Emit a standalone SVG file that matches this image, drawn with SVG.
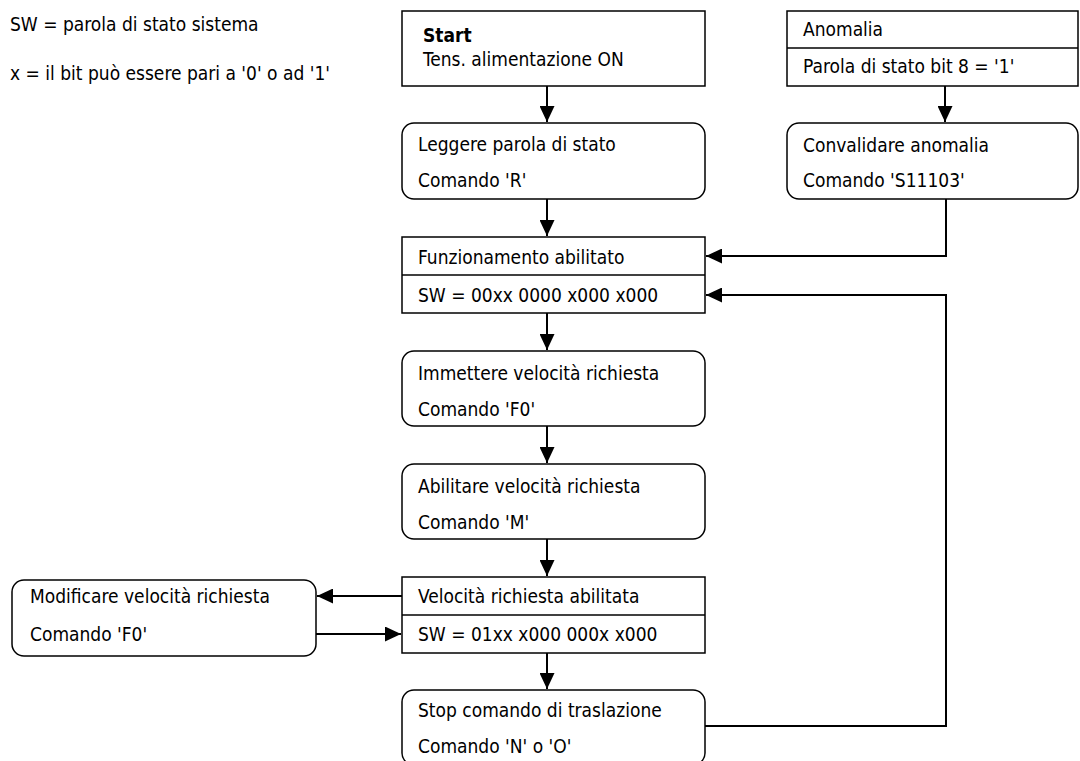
<svg xmlns="http://www.w3.org/2000/svg" width="1080" height="761" viewBox="0 0 1080 761">
  <style>
    text { font-family: "Liberation Sans Narrow", "DejaVu Sans Condensed", "Liberation Sans", sans-serif; font-size: 19px; fill: #000; }
    .box { fill: #fff; stroke: #000; stroke-width: 1.5; }
    .sep { stroke: #000; stroke-width: 1.5; }
    .conn { fill: none; stroke: #000; stroke-width: 2; marker-end: url(#arrow); }
    .bold { font-weight: bold; }
  </style>
  <defs>
    <marker id="arrow" viewBox="0 0 16 15" refX="16" refY="7.5" markerWidth="16" markerHeight="15" markerUnits="userSpaceOnUse" orient="auto">
      <path d="M0,0 L16,7.5 L0,15 Z" fill="#000"/>
    </marker>
  </defs>
  <rect width="1080" height="761" fill="#fff"/>

  <!-- legend -->
  <g id="legend">
    <text x="10" y="31">SW = parola di stato sistema</text>
    <text x="10" y="80">x = il bit può essere pari a '0' o ad '1'</text>
  </g>

  <!-- connectors -->
  <g id="connectors">
    <path class="conn" d="M547,86 V122"/>
    <path class="conn" d="M547,199 V236"/>
    <path class="conn" d="M547,313 V350"/>
    <path class="conn" d="M547,426 V463"/>
    <path class="conn" d="M547,539 V576"/>
    <path class="conn" d="M547,653 V689"/>
    <path class="conn" d="M945,86 V122"/>
    <path class="conn" d="M946,199 V256 H706"/>
    <path class="conn" d="M705,726 H946 V295 H706"/>
    <path class="conn" d="M402,596 H317"/>
    <path class="conn" d="M316,634 H401"/>
  </g>

  <g id="start">
    <rect class="box" x="402" y="11" width="303" height="75"/>
    <text class="bold" x="423" y="42">Start</text>
    <text x="423" y="66">Tens. alimentazione ON</text>
  </g>

  <g id="anomalia">
    <rect class="box" x="787" y="11" width="291" height="75"/>
    <line class="sep" x1="787" y1="48" x2="1078" y2="48"/>
    <text x="803" y="36">Anomalia</text>
    <text x="803" y="73">Parola di stato bit 8 = '1'</text>
  </g>

  <g id="leggere">
    <rect class="box" x="402" y="123" width="303" height="76" rx="12"/>
    <text x="418" y="151">Leggere parola di stato</text>
    <text x="418" y="187">Comando 'R'</text>
  </g>

  <g id="convalidare">
    <rect class="box" x="787" y="123" width="291" height="76" rx="12"/>
    <text x="803" y="152">Convalidare anomalia</text>
    <text x="803" y="187">Comando 'S11103'</text>
  </g>

  <g id="funzionamento">
    <rect class="box" x="402" y="237" width="303" height="76"/>
    <line class="sep" x1="402" y1="275" x2="705" y2="275"/>
    <text x="418" y="264">Funzionamento abilitato</text>
    <text x="418" y="302">SW = 00xx 0000 x000 x000</text>
  </g>

  <g id="immettere">
    <rect class="box" x="402" y="351" width="303" height="75" rx="12"/>
    <text x="418" y="380">Immettere velocità richiesta</text>
    <text x="418" y="416">Comando 'F0'</text>
  </g>

  <g id="abilitare">
    <rect class="box" x="402" y="464" width="303" height="75" rx="12"/>
    <text x="418" y="493">Abilitare velocità richiesta</text>
    <text x="418" y="529">Comando 'M'</text>
  </g>

  <g id="velocita">
    <rect class="box" x="402" y="577" width="303" height="76"/>
    <line class="sep" x1="402" y1="615" x2="705" y2="615"/>
    <text x="418" y="603">Velocità richiesta abilitata</text>
    <text x="418" y="641">SW = 01xx x000 000x x000</text>
  </g>

  <g id="modificare">
    <rect class="box" x="12" y="580" width="304" height="76" rx="12"/>
    <text x="30" y="603">Modificare velocità richiesta</text>
    <text x="30" y="641">Comando 'F0'</text>
  </g>

  <g id="stop">
    <rect class="box" x="402" y="690" width="303" height="75" rx="12"/>
    <text x="418" y="717">Stop comando di traslazione</text>
    <text x="418" y="753">Comando 'N' o 'O'</text>
  </g>
</svg>
